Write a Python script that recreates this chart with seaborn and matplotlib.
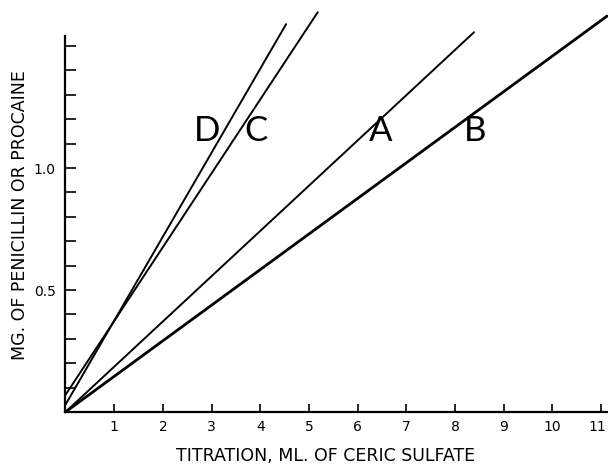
import matplotlib
matplotlib.use("Agg")
import matplotlib.pyplot as plt
import matplotlib.transforms as mtransforms
import seaborn as sns
import pandas as pd

# Line endpoints (ml ceric sulfate, mg)
line_names = ["A", "B", "C", "D"]
line_x = {"A": [0.0, 8.39], "B": [0.0, 11.12], "C": [0.0, 5.18], "D": [0.0, 4.53]}
line_y = {"A": [0.0, 1.557], "B": [0.0, 1.623], "C": [0.07, 1.639], "D": [0.03, 1.59]}
label_x = {"D": 2.9, "C": 3.91, "A": 6.48, "B": 8.41}
label_y = 1.15

x_ticks = [1, 2, 3, 4, 5, 6, 7, 8, 9, 10, 11]
x_tick_labels = ["1", "2", "3", "4", "5", "6", "7", "8", "9", "10", "11"]
y_ticks = [0.1, 0.2, 0.3, 0.4, 0.5, 0.6, 0.7, 0.8, 0.9, 1.0, 1.1, 1.2, 1.3, 1.4, 1.5]
y_tick_labels = ["", "", "", "", "0.5", "", "", "", "", "1.0", "", "", "", "", ""]

x_label = "TITRATION, ML. OF CERIC SULFATE"
y_label = "MG. OF PENICILLIN OR PROCAINE"

rows = []
for n in line_names:
    for xv, yv in zip(line_x[n], line_y[n]):
        rows.append({"line": n, "x": xv, "y": yv})
df = pd.DataFrame(rows)

sns.set_style("ticks")
plt.rcParams["font.family"] = ["DejaVu Sans"]

fig = plt.figure(figsize=(6.08, 4.68), dpi=100)
ax = fig.add_axes([0.1077, 0.1197, 0.8923, 0.8803])

widths = {"A": 1.4, "B": 2.0, "C": 1.4, "D": 1.4}
for n in line_names:
    sns.lineplot(data=df[df["line"] == n], x="x", y="y", color="black",
                 linewidth=widths[n], ax=ax, legend=False, clip_on=False)

for n, xv in label_x.items():
    ax.text(xv, label_y, n, fontsize=25, fontweight="normal", ha="center",
            va="center", color="black", family=["Lato", "DejaVu Sans"])

ax.set_xlim(0, 11.14)
ax.set_ylim(0, 1.689)
ax.spines["top"].set_visible(False)
ax.spines["right"].set_visible(False)
ax.spines["left"].set_bounds(0, 1.54)
ax.spines["left"].set_linewidth(1.6)
ax.spines["bottom"].set_linewidth(1.6)
ax.spines["left"].set_color("black")
ax.spines["bottom"].set_color("black")

ax.set_xticks(x_ticks)
ax.set_xticklabels(x_tick_labels)
ax.set_yticks(y_ticks)
ax.set_yticklabels(y_tick_labels)
ax.tick_params(axis="both", direction="in", color="black", labelcolor="black",
               labelsize=10, width=1.2)
ax.tick_params(axis="y", length=8, pad=7)
ax.tick_params(axis="x", length=6, pad=6)

# keep the last x tick label inside the figure
last = ax.get_xticklabels()[-1]
last.set_transform(last.get_transform() +
                   mtransforms.ScaledTranslation(-4 / 100, 0, fig.dpi_scale_trans))

ax.set_xlabel(x_label, fontsize=12.5, color="black")
ax.set_ylabel(y_label, fontsize=12.5, color="black")
ax.xaxis.set_label_coords(0.48, -0.086)
ax.yaxis.set_label_coords(-0.067, 0.478)

fig.savefig("out.png", dpi=100)
